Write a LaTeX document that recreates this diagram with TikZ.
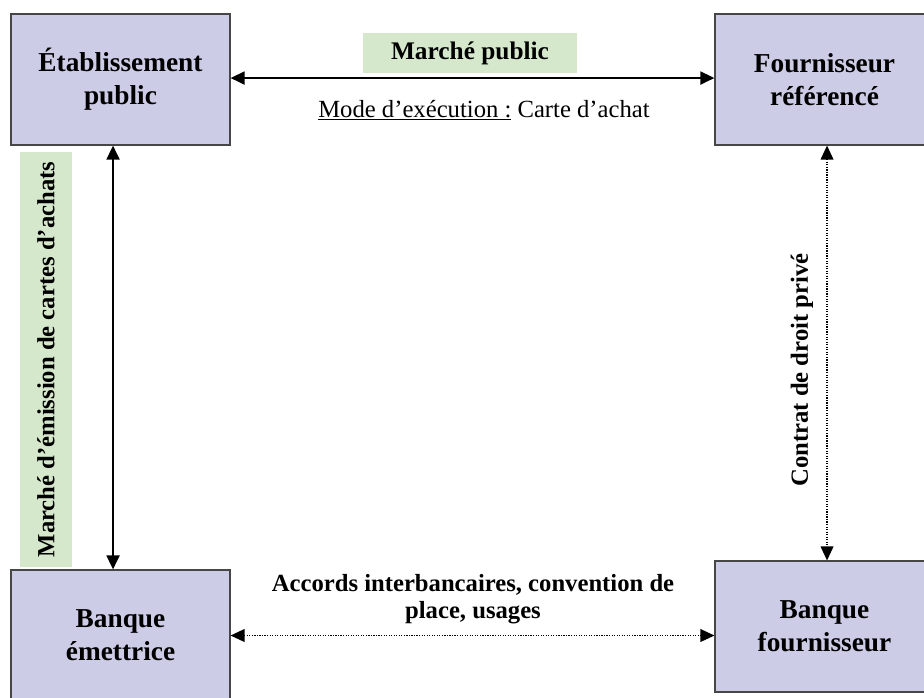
\documentclass[tikz,border=0pt]{standalone}
\usepackage{fontspec}
\setmainfont{Liberation Serif}
\usetikzlibrary{arrows.meta}
\definecolor{boxfill}{RGB}{204,204,230}
\definecolor{boxline}{RGB}{70,70,70}
\definecolor{labfill}{RGB}{213,232,203}
\tikzset{
  entity/.style={draw=boxline, line width=0.8pt, fill=boxfill, minimum width=164.25pt, minimum height=98.25pt, align=center, inner sep=0pt, font=\fontsize{20.5}{24.75}\selectfont\bfseries},
  greenlab/.style={fill=labfill, inner sep=0pt, font=\fontsize{19}{22}\selectfont\bfseries},
  plainlab/.style={inner sep=0pt, align=center, font=\fontsize{18.5}{20}\selectfont\bfseries},
  solidlink/.style={line width=2pt, {Triangle[length=10.5pt,width=9.5pt]}-{Triangle[length=10.5pt,width=9.5pt]}},
  dotlink/.style={line width=1.1pt, dash pattern=on 0.9pt off 1pt, {Triangle[length=10.5pt,width=9.5pt]}-{Triangle[length=10.5pt,width=9.5pt]}}
}
\begin{document}
\begin{tikzpicture}[x=0.75pt,y=-0.75pt]
\useasboundingbox (0,0) rectangle (924,697);
\clip (0,0) rectangle (924,697);
\fill[white] (0,0) rectangle (924,697);
\node[entity] (EP) at (120.5,79.5) {Établissement\\public};
\node[entity] (FR) at (824.5,79.5) {Fournisseur\\référencé};
\node[entity] (BE) at (120.5,635.5) {Banque\\émettrice};
\node[entity] (BF) at (824.5,626.5) {Banque\\fournisseur};
\node[greenlab, minimum width=160.5pt, minimum height=30pt] (LMP) at (470,53) {Marché public};
\node[inner sep=0pt, font=\fontsize{18.5}{22}\selectfont] (LMode) at (484,110) {\underline{Mode d’exécution :} Carte d’achat};
\node[greenlab, font=\fontsize{18.5}{22}\selectfont\bfseries, rotate=90, minimum width=311.25pt, minimum height=39pt] (LEm) at (46,359.5) {Marché d’émission de cartes d’achats};
\node[plainlab, rotate=90] (LCd) at (802,370) {Contrat de droit privé};
\node[plainlab] (LAc) at (473,599) {Accords interbancaires, convention de\\place, usages};
\draw[solidlink] ([yshift=1.1pt]EP.east) -- ([yshift=1.1pt]FR.west);
\draw[solidlink] ([xshift=-5.6pt]EP.south) -- ([xshift=-5.6pt]BE.north);
\draw[dotlink] ([xshift=1.9pt]FR.south) -- ([xshift=1.9pt]BF.north);
\draw[dotlink] (BE.east) -- (BE.east -| BF.west);
\end{tikzpicture}
\end{document}
